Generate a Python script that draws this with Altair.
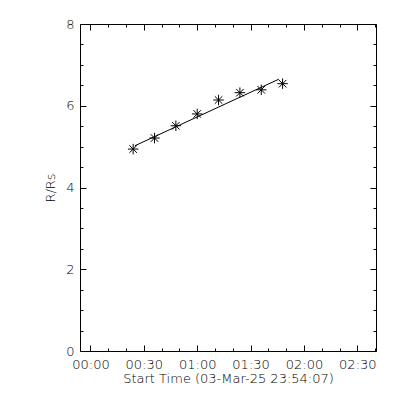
import altair as alt
import pandas as pd

# ---- data ----
obs_times = ["00:24", "00:36", "00:48", "01:00", "01:12", "01:24", "01:36", "01:48"]
heights = [4.94, 5.21, 5.51, 5.80, 6.14, 6.32, 6.39, 6.54]
fit_times = ["00:24:54", "01:45:54"]
fit_heights = [5.02, 6.65]

start_time = "23:54:07"
end_minutes = 160.5
x_major = [0, 30, 60, 90, 120, 150]
x_minor = [10, 20, 40, 50, 70, 80, 100, 110, 130, 140, 160]
y_major = [0, 2, 4, 6, 8]
y_minor = [0.5, 1, 1.5, 2.5, 3, 3.5, 4.5, 5, 5.5, 6.5, 7, 7.5]


def to_min(t, prev_day=False):
    parts = [int(p) for p in t.split(":")]
    while len(parts) < 3:
        parts.append(0)
    m = parts[0] * 60 + parts[1] + parts[2] / 60.0
    return m - 1440 if prev_day else m


x0 = to_min(start_time, prev_day=True)

obs = pd.DataFrame({"t": [to_min(t) for t in obs_times], "r": heights})
fit = pd.DataFrame({"t": [to_min(t) for t in fit_times], "r": fit_heights})

W, H = 296, 327
FONT = "DejaVu Sans ExtraLight, DejaVu Sans"
FS = 13
FW = 200

xscale = alt.Scale(domain=[x0, end_minutes], nice=False, zero=False)
yscale = alt.Scale(domain=[0, 8], nice=False, zero=False)

label_expr = "format(floor(datum.value/60), '02d') + ':' + format(datum.value % 60, '02d')"

star = "M -1 0 L 1 0 M 0 -1 L 0 1 M -0.72 -0.72 L 0.72 0.72 M -0.72 0.72 L 0.72 -0.72"


def tick_axis(orient, offset, values, size):
    return alt.Axis(orient=orient, offset=offset, values=values, tickSize=size,
                    labels=False, domain=False, title=None, grid=False,
                    tickColor="black", tickWidth=1)


# layer 1: points + labelled axes
points = alt.Chart(obs).mark_point(
    shape=star, size=110, stroke="black", strokeWidth=1, filled=False, opacity=1
).encode(
    x=alt.X("t:Q", scale=xscale,
            axis=alt.Axis(orient="bottom", values=x_major, ticks=False, tickSize=0,
                          domain=False, grid=False, labelExpr=label_expr,
                          labelPadding=7, labelFont=FONT, labelFontSize=FS,
                          labelFontWeight=FW,
                          labelColor="black", title="Start Time (03-Mar-25 23:54:07)",
                          titleFont=FONT, titleFontSize=FS, titleFontWeight=FW,
                          titleColor="black", titlePadding=1)),
    y=alt.Y("r:Q", scale=yscale,
            axis=alt.Axis(orient="left", values=y_major, ticks=False, tickSize=0,
                          domain=False, grid=False, labelPadding=6, labelFont=FONT,
                          labelFontSize=FS, labelFontWeight=FW, labelColor="black",
                          title="R/Rs",
                          titleFont=FONT, titleFontSize=FS, titleFontWeight=FW,
                          titleColor="black", titlePadding=8)),
)

# layer 2: fit line + inner major ticks (bottom, left)
line = alt.Chart(fit).mark_line(color="black", strokeWidth=1).encode(
    x=alt.X("t:Q", scale=xscale, axis=tick_axis("top", -H, x_major, 6)),
    y=alt.Y("r:Q", scale=yscale, axis=tick_axis("right", -W, y_major, 6)),
)


# hidden layers carrying the remaining tick axes
def hidden(xax, yax):
    return alt.Chart(obs).mark_point(opacity=0).encode(
        x=alt.X("t:Q", scale=xscale, axis=xax),
        y=alt.Y("r:Q", scale=yscale, axis=yax),
    )


minor_in = hidden(tick_axis("top", -H, x_minor, 3), tick_axis("right", -W, y_minor, 3))
major_out = hidden(tick_axis("bottom", -H, x_major, 6), tick_axis("left", -W, y_major, 6))
minor_out = hidden(tick_axis("bottom", -H, x_minor, 3), tick_axis("left", -W, y_minor, 3))

chart = alt.layer(points, line, minor_in, major_out, minor_out).resolve_axis(
    x="independent", y="independent"
).properties(
    width=W, height=H,
    autosize=alt.AutoSizeParams(type="none"),
    padding={"left": 72, "top": 16, "right": 16, "bottom": 41},
    background="white",
).configure_view(stroke="black", strokeWidth=1)

chart.save("out.html", embed_options={"renderer": "svg", "actions": False})
